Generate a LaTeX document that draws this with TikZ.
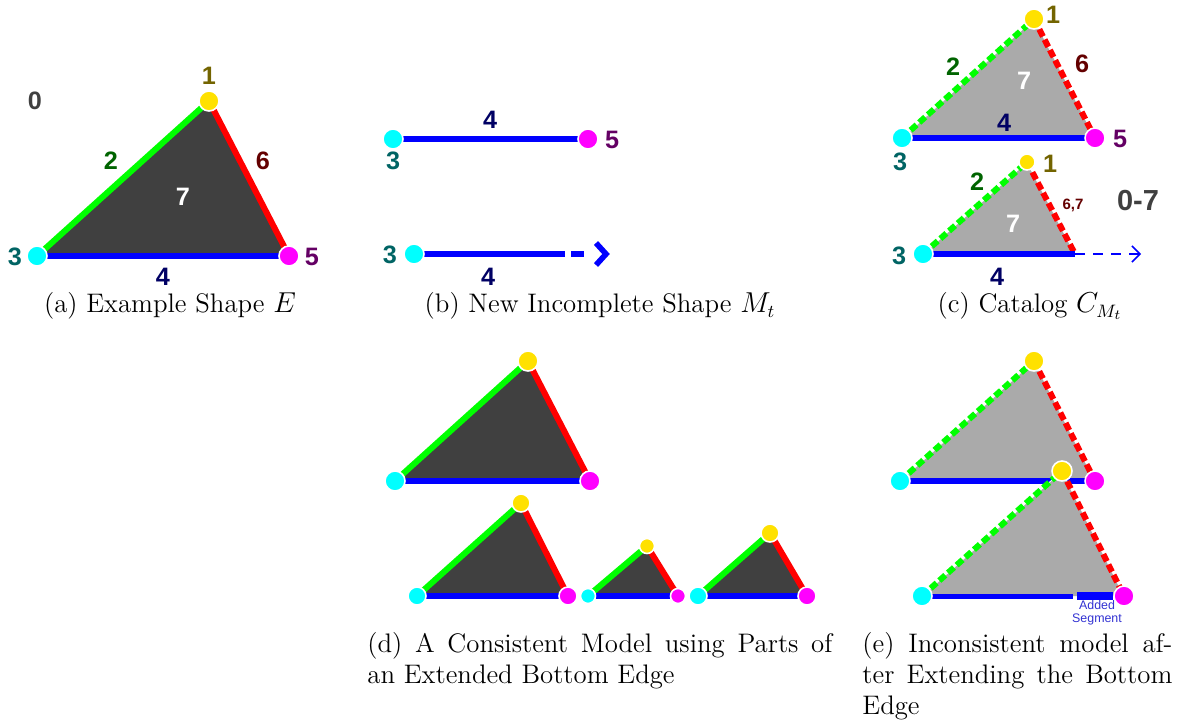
\documentclass[tikz,border=0pt]{standalone}
\usepackage{fontspec}
\usepackage{amsmath}
\newfontfamily\lblfont{Liberation Sans}
\usetikzlibrary{arrows.meta}

\definecolor{vgold}{RGB}{255,225,0}
\definecolor{vcyan}{RGB}{0,255,255}
\definecolor{vmag}{RGB}{255,0,255}
\definecolor{egreen}{RGB}{0,255,0}
\definecolor{ered}{RGB}{255,0,0}
\definecolor{eblue}{RGB}{0,0,255}
\definecolor{darkfill}{RGB}{64,64,64}
\definecolor{lightfill}{RGB}{170,170,170}
\definecolor{lbzero}{RGB}{64,64,64}
\definecolor{lbone}{RGB}{115,100,0}
\definecolor{lbtwo}{RGB}{0,100,0}
\definecolor{lbthree}{RGB}{0,100,100}
\definecolor{lbfour}{RGB}{0,0,100}
\definecolor{lbfive}{RGB}{100,0,100}
\definecolor{lbsix}{RGB}{100,0,0}
\definecolor{addblue}{RGB}{50,50,210}

\begin{document}
\begin{tikzpicture}[x=0.5pt, y=-0.5pt,
    vtx/.style={circle, draw=white, line width=0.8pt, inner sep=0pt, minimum size=10pt},
    svtx/.style={vtx, minimum size=8pt},
    edge/.style={line width=3pt},
    dedge/.style={line width=3pt, dash pattern=on 4pt off 1.8pt, preaction={draw=white, solid}},
    lbl/.style={font=\lblfont\bfseries\fontsize{12.6}{14}\selectfont, inner sep=0pt, text height=0.72em, text depth=0pt},
    subcap/.style={font=\fontsize{13.4}{15.5}\selectfont, inner sep=0pt}]
  \useasboundingbox (0,0) rectangle (1181,723);

  % (a) example shape
  \coordinate (a1) at (209,101);
  \coordinate (a3) at (37,256);
  \coordinate (a5) at (289,256);
  \fill[darkfill] (a1) -- (a3) -- (a5) -- cycle;
  \draw[edge, egreen] (a3) -- (a1);
  \draw[edge, ered] (a1) -- (a5);
  \draw[edge, eblue] (a3) -- (a5);
  \node[vtx, fill=vgold] (a1v) at (a1) {};
  \node[vtx, fill=vcyan] (a3v) at (a3) {};
  \node[vtx, fill=vmag] (a5v) at (a5) {};
  \node[lbl, text=lbzero] (a0l) at (35,102) {0};
  \node[lbl, text=lbone] (a1l) at (209,77) {1};
  \node[lbl, text=lbtwo] (a2l) at (111,162) {2};
  \node[lbl, text=lbsix] (a6l) at (263,162) {6};
  \node[lbl, text=white] (a7l) at (183,198) {7};
  \node[lbl, text=lbthree] (a3l) at (15,258) {3};
  \node[lbl, text=lbfive] (a5l) at (312,258) {5};
  \node[lbl, text=lbfour] (a4l) at (163,278) {4};
  \node[subcap] (acap) at (170,306) {(a) Example Shape $E$};

  % (b) new incomplete shape
  \coordinate (b3) at (393,139);
  \coordinate (b5) at (588,139);
  \draw[edge, eblue] (b3) -- (b5);
  \node[vtx, fill=vcyan] (b3v) at (b3) {};
  \node[vtx, fill=vmag] (b5v) at (b5) {};
  \node[lbl, text=lbfour] (b4l) at (490,121) {4};
  \node[lbl, text=lbthree] (b3l) at (393,162) {3};
  \node[lbl, text=lbfive] (b5l) at (612,141) {5};
  \coordinate (b3x) at (414,254);
  \coordinate (b4end) at (565,254);
  \coordinate (b4dash) at (571,254);
  \coordinate (b4dend) at (584,254);
  \draw[edge, eblue] (b3x) -- (b4end);
  \draw[edge, eblue] (b4dash) -- (b4dend);
  \draw[line width=2.8pt, eblue, line cap=butt] (596,243) -- (606,254) -- (596,265);
  \node[vtx, fill=vcyan] (b3xv) at (b3x) {};
  \node[lbl, text=lbthree] (b3xl) at (390,256) {3};
  \node[lbl, text=lbfour] (b4xl) at (488,278) {4};
  \node[subcap] (bcap) at (600,306) {(b) New Incomplete Shape $M_t$};

  % (c) catalog
  \coordinate (c1) at (1034,19);
  \coordinate (c3) at (902,138);
  \coordinate (c5) at (1095,138);
  \fill[lightfill] (c1) -- (c3) -- (c5) -- cycle;
  \draw[dedge, egreen] (c3) -- (c1);
  \draw[dedge, ered] (c1) -- (c5);
  \draw[edge, eblue] (c3) -- (c5);
  \node[vtx, fill=vgold] (c1v) at (c1) {};
  \node[vtx, fill=vcyan] (c3v) at (c3) {};
  \node[vtx, fill=vmag] (c5v) at (c5) {};
  \node[lbl, text=lbone] (c1l) at (1053,16) {1};
  \node[lbl, text=lbtwo] (c2l) at (953,68) {2};
  \node[lbl, text=lbsix] (c6l) at (1082,65) {6};
  \node[lbl, text=white] (c7l) at (1024,82) {7};
  \node[lbl, text=lbfour] (c4l) at (1004,124) {4};
  \node[lbl, text=lbfive] (c5l) at (1120,140) {5};
  \node[lbl, text=lbthree] (c3l) at (900,163) {3};
  \coordinate (c1x) at (1027,162);
  \coordinate (c3x) at (923,254);
  \coordinate (c4x) at (1075,254);
  \coordinate (c4arr) at (1141,254);
  \fill[lightfill] (c1x) -- (c3x) -- (c4x) -- cycle;
  \draw[dedge, egreen] (c3x) -- (c1x);
  \draw[dedge, ered] (c1x) -- (c4x);
  \draw[edge, eblue] (c3x) -- (c4x);
  \draw[eblue, line width=0.8pt, dash pattern=on 5pt off 4pt, -{Straight Barb[length=4pt, width=8pt]}] (c4x) -- (c4arr);
  \node[svtx, fill=vgold] (c1xv) at (c1x) {};
  \node[vtx, fill=vcyan] (c3xv) at (c3x) {};
  \node[lbl, text=lbone] (c1xl) at (1050,165) {1};
  \node[lbl, text=lbtwo] (c2xl) at (977,183) {2};
  \node[lbl, text=lbsix, font=\lblfont\bfseries\fontsize{7.5}{9}\selectfont] (c67l) at (1073,202) {6,7};
  \node[lbl, text=lbzero, font=\lblfont\bfseries\fontsize{14.5}{16}\selectfont] (c07l) at (1138,203) {0-7};
  \node[lbl, text=white] (c7xl) at (1013,225) {7};
  \node[lbl, text=lbthree] (c3xl) at (899,257) {3};
  \node[lbl, text=lbfour] (c4xl) at (997,278) {4};
  \node[subcap] (ccap) at (1030,306) {(c) Catalog $C_{M_t}$};

  % (d) consistent model
  \foreach \n/\xa/\ya/\xb/\yb/\xc/\yc/\s in {dt/528/361/395/481/590/481/10pt,
      da/521/503/417/596/568/596/9pt,
      db/647/546/588/596/678/596/7.5pt,
      dc/770/533/698/596/807/596/9pt} {
    \coordinate (\n1) at (\xa,\ya);
    \coordinate (\n3) at (\xb,\yb);
    \coordinate (\n5) at (\xc,\yc);
    \fill[darkfill] (\n1) -- (\n3) -- (\n5) -- cycle;
    \draw[edge, egreen] (\n3) -- (\n1);
    \draw[edge, ered] (\n1) -- (\n5);
    \draw[edge, eblue] (\n3) -- (\n5);
    \node[vtx, fill=vgold, minimum size=\s] (\n1v) at (\n1) {};
    \node[vtx, fill=vcyan, minimum size=\s] (\n3v) at (\n3) {};
    \node[vtx, fill=vmag, minimum size=\s] (\n5v) at (\n5) {};
  }
  \node[subcap, anchor=north west, text width=232.5pt, align=justify] (dcap) at (367,632)
    {(d) A Consistent Model using Parts of\linebreak an Extended Bottom Edge};

  % (e) inconsistent model
  \coordinate (e1) at (1034,361);
  \coordinate (e3) at (900,481);
  \coordinate (e5) at (1095,481);
  \fill[lightfill] (e1) -- (e3) -- (e5) -- cycle;
  \draw[dedge, egreen] (e3) -- (e1);
  \draw[dedge, ered] (e1) -- (e5);
  \draw[edge, eblue] (e3) -- (e5);
  \node[vtx, fill=vgold] (e1v) at (e1) {};
  \node[vtx, fill=vcyan] (e3v) at (e3) {};
  \node[vtx, fill=vmag] (e5v) at (e5) {};
  \coordinate (f1) at (1062,471);
  \coordinate (f3) at (922,596);
  \coordinate (f5) at (1124,596);
  \coordinate (f4end) at (1073,596);
  \coordinate (fadd) at (1077,596);
  \coordinate (faddend) at (1113,596);
  \fill[lightfill] (f1) -- (f3) -- (f5) -- cycle;
  \draw[dedge, egreen] (f3) -- (f1);
  \draw[dedge, ered] (f1) -- (f5);
  \draw[line width=2.5pt, eblue] (f3) -- (f4end);
  \draw[line width=3.8pt, eblue] (fadd) -- (faddend);
  \node[vtx, fill=vgold] (f1v) at (f1) {};
  \node[vtx, fill=vcyan] (f3v) at (f3) {};
  \node[vtx, fill=vmag] (f5v) at (f5) {};
  \node[text=addblue, font=\lblfont\fontsize{6.2}{6.4}\selectfont, align=center, inner sep=0pt] (fadl) at (1097,613) {Added\\Segment};
  \node[subcap, anchor=north west, text width=155pt, align=justify] (ecap) at (862,632)
    {(e) Inconsistent model af-\linebreak ter Extending the Bottom\linebreak Edge};
\end{tikzpicture}
\end{document}
